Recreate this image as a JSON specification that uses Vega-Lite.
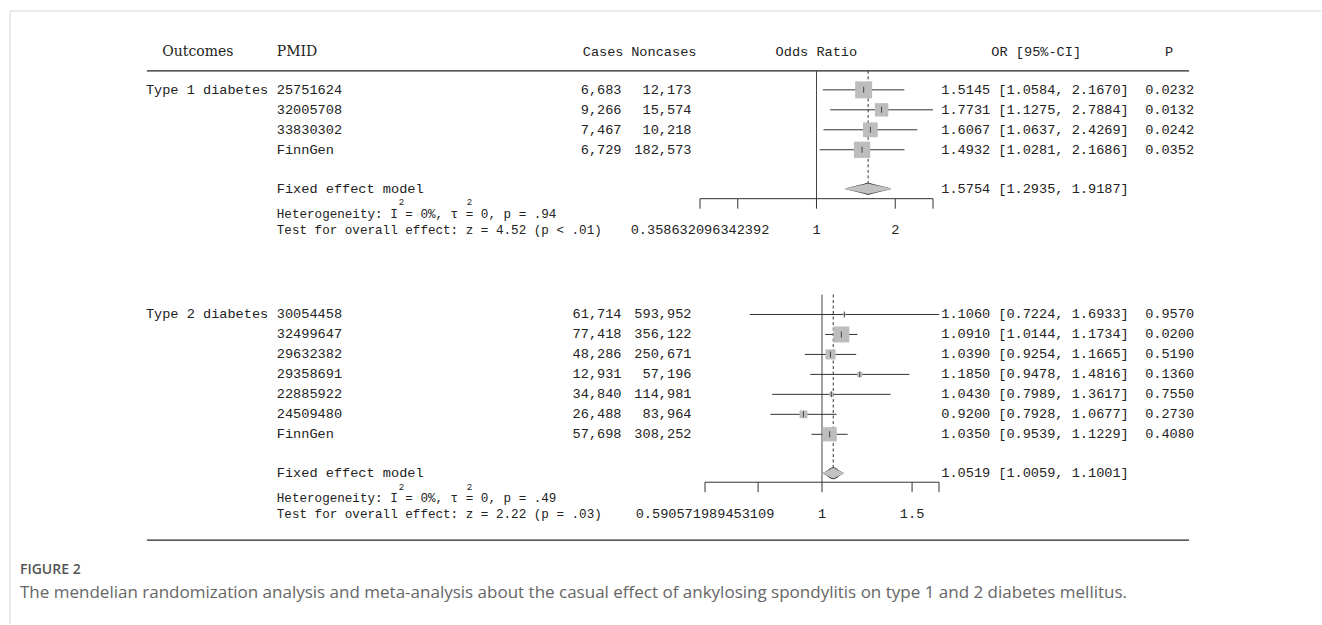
{
"$schema": "https://vega.github.io/schema/vega-lite/v6.json",
"width": 1322, "height": 625,
"autosize": {"type": "fit", "contains": "padding"},
"padding": 0,
"background": "#ffffff",
"config": {"view": {"stroke": null}, "text": {"font": "Liberation Mono", "fontSize": 13.6, "color": "#222222", "baseline": "middle"}},
"data": {"values": [{}]},
"datasets": {
"studies": [
{"g":"T1D","line":4,"pmid":"25751624","cases":6683,"noncases":12173,"or":1.5145,"lo":1.0584,"hi":2.1670,"ci":"[1.0584, 2.1670]","p":0.0232,"w":30.3},
{"g":"T1D","line":5,"pmid":"32005708","cases":9266,"noncases":15574,"or":1.7731,"lo":1.1275,"hi":2.7884,"ci":"[1.1275, 2.7884]","p":0.0132,"w":18.9},
{"g":"T1D","line":6,"pmid":"33830302","cases":7467,"noncases":10218,"or":1.6067,"lo":1.0637,"hi":2.4269,"ci":"[1.0637, 2.4269]","p":0.0242,"w":22.9},
{"g":"T1D","line":7,"pmid":"FinnGen","cases":6729,"noncases":182573,"or":1.4932,"lo":1.0281,"hi":2.1686,"ci":"[1.0281, 2.1686]","p":0.0352,"w":27.9},
{"g":"T2D","line":15.25,"pmid":"30054458","cases":61714,"noncases":593952,"or":1.1060,"lo":0.7224,"hi":1.6933,"ci":"[0.7224, 1.6933]","p":0.9570,"w":1.1},
{"g":"T2D","line":16.25,"pmid":"32499647","cases":77418,"noncases":356122,"or":1.0910,"lo":1.0144,"hi":1.1734,"ci":"[1.0144, 1.1734]","p":0.0200,"w":37.9},
{"g":"T2D","line":17.25,"pmid":"29632382","cases":48286,"noncases":250671,"or":1.0390,"lo":0.9254,"hi":1.1665,"ci":"[0.9254, 1.1665]","p":0.5190,"w":15.0},
{"g":"T2D","line":18.25,"pmid":"29358691","cases":12931,"noncases":57196,"or":1.1850,"lo":0.9478,"hi":1.4816,"ci":"[0.9478, 1.4816]","p":0.1360,"w":4.0},
{"g":"T2D","line":19.25,"pmid":"22885922","cases":34840,"noncases":114981,"or":1.0430,"lo":0.7989,"hi":1.3617,"ci":"[0.7989, 1.3617]","p":0.7550,"w":2.8},
{"g":"T2D","line":20.25,"pmid":"24509480","cases":26488,"noncases":83964,"or":0.9200,"lo":0.7928,"hi":1.0677,"ci":"[0.7928, 1.0677]","p":0.2730,"w":9.1},
{"g":"T2D","line":21.25,"pmid":"FinnGen","cases":57698,"noncases":308252,"or":1.0350,"lo":0.9539,"hi":1.1229,"ci":"[0.9539, 1.1229]","p":0.4080,"w":30.2}
],
"pooled": [
{"g":"T1D","line":8.95,"model":"Fixed effect model","or":1.5754,"lo":1.2935,"hi":1.9187,"ci":"[1.2935, 1.9187]","het":"Heterogeneity: I  = 0%, τ  = 0, p = .94","test":"Test for overall effect: z = 4.52 (p < .01)"},
{"g":"T2D","line":23.2,"model":"Fixed effect model","or":1.0519,"lo":1.0059,"hi":1.1001,"ci":"[1.0059, 1.1001]","het":"Heterogeneity: I  = 0%, τ  = 0, p = .49","test":"Test for overall effect: z = 2.22 (p = .03)"}
],
"outcomes": [
{"outcome":"Type 1 diabetes","line":4},
{"outcome":"Type 2 diabetes","line":15.25}
],
"ticks": [
{"g":"T1D","v":0.358632096342392,"label":"0.358632096342392"},
{"g":"T1D","v":0.5,"label":""},
{"g":"T1D","v":1,"label":"1"},
{"g":"T1D","v":2,"label":"2"},
{"g":"T1D","v":2.7884,"label":""},
{"g":"T2D","v":0.590571989453109,"label":"0.590571989453109"},
{"g":"T2D","v":0.75,"label":""},
{"g":"T2D","v":1,"label":"1"},
{"g":"T2D","v":1.5,"label":"1.5"},
{"g":"T2D","v":1.6933,"label":""}
]
},
"resolve": {"scale": {"x": "independent", "size": "independent"}},
"layer": [
{
"layer": [
{"mark":{"type":"rule","color":"#d4d4d4","strokeWidth":1},"encoding":{"x":{"datum":10,"type":"quantitative","scale":{"domain":[0,1322],"nice":false,"zero":false},"axis":null},"x2":{"datum":1322},"y":{"datum":0.05,"type":"quantitative","scale":{"domain":[-0.5,30.75],"reverse":true,"nice":false,"zero":false},"axis":null}}},
{"mark":{"type":"rule","color":"#d4d4d4","strokeWidth":1},"encoding":{"x":{"datum":10,"type":"quantitative"},"y":{"datum":0.05,"type":"quantitative"},"y2":{"datum":30.75}}},
{"mark":{"type":"rule","color":"#222222","strokeWidth":1.3},"encoding":{"x":{"datum":147,"type":"quantitative"},"x2":{"datum":1190},"y":{"datum":3.05,"type":"quantitative"}}},
{"mark":{"type":"rule","color":"#222222","strokeWidth":1.3},"encoding":{"x":{"datum":147,"type":"quantitative"},"x2":{"datum":1190},"y":{"datum":26.55,"type":"quantitative"}}},
{"mark":{"type":"text","font":"DejaVu Serif","fontSize":14,"align":"center"},"encoding":{"x":{"datum":198,"type":"quantitative"},"y":{"datum":2.1,"type":"quantitative"},"text":{"value":"Outcomes"}}},
{"mark":{"type":"text","font":"DejaVu Serif","fontSize":14,"align":"left"},"encoding":{"x":{"datum":277,"type":"quantitative"},"y":{"datum":2.1,"type":"quantitative"},"text":{"value":"PMID"}}},
{"mark":{"type":"text","align":"right"},"encoding":{"x":{"datum":624,"type":"quantitative"},"y":{"datum":2.1,"type":"quantitative"},"text":{"value":"Cases"}}},
{"mark":{"type":"text","align":"right"},"encoding":{"x":{"datum":697,"type":"quantitative"},"y":{"datum":2.1,"type":"quantitative"},"text":{"value":"Noncases"}}},
{"mark":{"type":"text","align":"center"},"encoding":{"x":{"datum":817,"type":"quantitative"},"y":{"datum":2.1,"type":"quantitative"},"text":{"value":"Odds Ratio"}}},
{"mark":{"type":"text","align":"center"},"encoding":{"x":{"datum":1037,"type":"quantitative"},"y":{"datum":2.1,"type":"quantitative"},"text":{"value":"OR [95%-CI]"}}},
{"mark":{"type":"text","align":"center"},"encoding":{"x":{"datum":1170,"type":"quantitative"},"y":{"datum":2.1,"type":"quantitative"},"text":{"value":"P"}}},
{"data":{"name":"outcomes"},"mark":{"type":"text","align":"left"},"encoding":{"x":{"datum":146,"type":"quantitative"},"y":{"field":"line","type":"quantitative"},"text":{"field":"outcome"}}},
{"data":{"name":"studies"},"mark":{"type":"text","align":"left"},"encoding":{"x":{"datum":277,"type":"quantitative"},"y":{"field":"line","type":"quantitative"},"text":{"field":"pmid"}}},
{"data":{"name":"studies"},"mark":{"type":"text","align":"right"},"encoding":{"x":{"datum":622,"type":"quantitative"},"y":{"field":"line","type":"quantitative"},"text":{"field":"cases","type":"quantitative","format":","}}},
{"data":{"name":"studies"},"mark":{"type":"text","align":"right"},"encoding":{"x":{"datum":692,"type":"quantitative"},"y":{"field":"line","type":"quantitative"},"text":{"field":"noncases","type":"quantitative","format":","}}},
{"data":{"name":"studies"},"mark":{"type":"text","align":"left"},"encoding":{"x":{"datum":942,"type":"quantitative"},"y":{"field":"line","type":"quantitative"},"text":{"field":"or","type":"quantitative","format":".4f"}}},
{"data":{"name":"studies"},"mark":{"type":"text","align":"left"},"encoding":{"x":{"datum":999,"type":"quantitative"},"y":{"field":"line","type":"quantitative"},"text":{"field":"ci"}}},
{"data":{"name":"studies"},"mark":{"type":"text","align":"left"},"encoding":{"x":{"datum":1146,"type":"quantitative"},"y":{"field":"line","type":"quantitative"},"text":{"field":"p","type":"quantitative","format":".4f"}}},
{"data":{"name":"pooled"},"mark":{"type":"text","align":"left"},"encoding":{"x":{"datum":277,"type":"quantitative"},"y":{"field":"line","type":"quantitative"},"text":{"field":"model"}}},
{"data":{"name":"pooled"},"mark":{"type":"text","align":"left"},"encoding":{"x":{"datum":942,"type":"quantitative"},"y":{"field":"line","type":"quantitative"},"text":{"field":"or","type":"quantitative","format":".4f"}}},
{"data":{"name":"pooled"},"mark":{"type":"text","align":"left"},"encoding":{"x":{"datum":999,"type":"quantitative"},"y":{"field":"line","type":"quantitative"},"text":{"field":"ci"}}},
{"data":{"name":"pooled"},"mark":{"type":"text","align":"left","fontSize":12.6,"dy":25},"encoding":{"x":{"datum":277,"type":"quantitative"},"y":{"field":"line","type":"quantitative"},"text":{"field":"het"}}},
{"data":{"name":"pooled"},"mark":{"type":"text","align":"center","fontSize":9,"dy":13.5},"encoding":{"x":{"datum":401.7,"type":"quantitative"},"y":{"field":"line","type":"quantitative"},"text":{"value":"2"}}},
{"data":{"name":"pooled"},"mark":{"type":"text","align":"center","fontSize":9,"dy":13.5},"encoding":{"x":{"datum":469.8,"type":"quantitative"},"y":{"field":"line","type":"quantitative"},"text":{"value":"2"}}},
{"data":{"name":"pooled"},"mark":{"type":"text","align":"left","fontSize":12.6,"dy":41},"encoding":{"x":{"datum":277,"type":"quantitative"},"y":{"field":"line","type":"quantitative"},"text":{"field":"test"}}},
{"mark":{"type":"text","align":"left","font":"Open Sans","fontSize":14,"fontWeight":600,"color":"#555555"},"encoding":{"x":{"datum":20,"type":"quantitative"},"y":{"datum":28.05,"type":"quantitative"},"text":{"value":"FIGURE 2"}}},
{"mark":{"type":"text","align":"left","font":"Open Sans","fontSize":17,"color":"#666666"},"encoding":{"x":{"datum":20,"type":"quantitative"},"y":{"datum":29.2,"type":"quantitative"},"text":{"value":"The mendelian randomization analysis and meta-analysis about the casual effect of ankylosing spondylitis on type 1 and 2 diabetes mellitus."}}}
]
},
{
"resolve": {"scale": {"size": "independent"}},
"layer": [
{"mark":{"type":"rule","color":"#444444","strokeWidth":1},"encoding":{"x":{"datum":1,"type":"quantitative","scale":{"type":"log","domain":[0.358632096342392,2.7884],"range":[700,933],"nice":false},"axis":null},"y":{"datum":3.05,"type":"quantitative"},"y2":{"datum":9.45}}},
{"data":{"name":"pooled"},"transform":[{"filter":"datum.g == 'T1D'"}],"mark":{"type":"rule","color":"#333333","strokeWidth":1,"strokeDash":[3,2.5]},"encoding":{"x":{"field":"or","type":"quantitative"},"y":{"datum":3.05,"type":"quantitative"},"y2":{"datum":8.7}}},
{"data":{"name":"studies"},"transform":[{"filter":"datum.g == 'T1D'"}],"mark":{"type":"rule","color":"#333333","strokeWidth":1},"encoding":{"x":{"field":"lo","type":"quantitative"},"x2":{"field":"hi"},"y":{"field":"line","type":"quantitative"}}},
{"data":{"name":"studies"},"transform":[{"filter":"datum.g == 'T1D'"}],"mark":{"type":"square","color":"#bdbdbd","opacity":1},"encoding":{"x":{"field":"or","type":"quantitative"},"y":{"field":"line","type":"quantitative"},"size":{"field":"w","type":"quantitative","scale":{"domain":[0,30.3],"range":[0,289]},"legend":null}}},
{"data":{"name":"studies"},"transform":[{"filter":"datum.g == 'T1D'"}],"mark":{"type":"tick","orient":"vertical","color":"#111111","size":6,"thickness":1},"encoding":{"x":{"field":"or","type":"quantitative"},"y":{"field":"line","type":"quantitative"}}},
{"data":{"name":"pooled"},"transform":[{"filter":"datum.g == 'T1D'"},{"fold":["lo","or"],"as":["est","v"]}],"mark":{"type":"trail","color":"#444444"},"encoding":{"x":{"field":"v","type":"quantitative"},"y":{"datum":8.95,"type":"quantitative"},"size":{"field":"est","type":"ordinal","scale":{"type":"point","domain":["lo","or"],"range":[0,12],"padding":0},"legend":null}}},
{"data":{"name":"pooled"},"transform":[{"filter":"datum.g == 'T1D'"},{"fold":["or","hi"],"as":["est","v"]}],"mark":{"type":"trail","color":"#444444"},"encoding":{"x":{"field":"v","type":"quantitative"},"y":{"datum":8.95,"type":"quantitative"},"size":{"field":"est","type":"ordinal","scale":{"type":"point","domain":["hi","or"],"range":[0,12],"padding":0},"legend":null}}},
{"data":{"name":"pooled"},"transform":[{"filter":"datum.g == 'T1D'"},{"fold":["lo","or"],"as":["est","v"]}],"mark":{"type":"trail","color":"#c2c2c2"},"encoding":{"x":{"field":"v","type":"quantitative"},"y":{"datum":8.95,"type":"quantitative"},"size":{"field":"est","type":"ordinal","scale":{"type":"point","domain":["lo","or"],"range":[0,10],"padding":0},"legend":null}}},
{"data":{"name":"pooled"},"transform":[{"filter":"datum.g == 'T1D'"},{"fold":["or","hi"],"as":["est","v"]}],"mark":{"type":"trail","color":"#c2c2c2"},"encoding":{"x":{"field":"v","type":"quantitative"},"y":{"datum":8.95,"type":"quantitative"},"size":{"field":"est","type":"ordinal","scale":{"type":"point","domain":["hi","or"],"range":[0,10],"padding":0},"legend":null}}},
{"data":{"name":"ticks"},"transform":[{"filter":"datum.g == 'T1D'"}],"mark":{"type":"rule","color":"#333333","strokeWidth":1},"encoding":{"x":{"field":"v","aggregate":"min","type":"quantitative"},"x2":{"field":"v","aggregate":"max"},"y":{"datum":9.45,"type":"quantitative"}}},
{"data":{"name":"ticks"},"transform":[{"filter":"datum.g == 'T1D'"}],"mark":{"type":"rule","color":"#333333","strokeWidth":1},"encoding":{"x":{"field":"v","type":"quantitative"},"y":{"datum":9.45,"type":"quantitative"},"y2":{"datum":9.95}}},
{"data":{"name":"ticks"},"transform":[{"filter":"datum.g == 'T1D'"}],"mark":{"type":"text","align":"center"},"encoding":{"x":{"field":"v","type":"quantitative"},"y":{"datum":11.0,"type":"quantitative"},"text":{"field":"label"}}}
]
},
{
"resolve": {"scale": {"size": "independent"}},
"layer": [
{"mark":{"type":"rule","color":"#444444","strokeWidth":1},"encoding":{"x":{"datum":1,"type":"quantitative","scale":{"type":"log","domain":[0.590571989453109,1.6933],"range":[705,939],"nice":false},"axis":null},"y":{"datum":14.25,"type":"quantitative"},"y2":{"datum":23.65}}},
{"data":{"name":"pooled"},"transform":[{"filter":"datum.g == 'T2D'"}],"mark":{"type":"rule","color":"#333333","strokeWidth":1,"strokeDash":[3,2.5]},"encoding":{"x":{"field":"or","type":"quantitative"},"y":{"datum":14.25,"type":"quantitative"},"y2":{"datum":22.95}}},
{"data":{"name":"studies"},"transform":[{"filter":"datum.g == 'T2D'"}],"mark":{"type":"rule","color":"#333333","strokeWidth":1},"encoding":{"x":{"field":"lo","type":"quantitative"},"x2":{"field":"hi"},"y":{"field":"line","type":"quantitative"}}},
{"data":{"name":"studies"},"transform":[{"filter":"datum.g == 'T2D'"}],"mark":{"type":"square","color":"#bdbdbd","opacity":1},"encoding":{"x":{"field":"or","type":"quantitative"},"y":{"field":"line","type":"quantitative"},"size":{"field":"w","type":"quantitative","scale":{"domain":[0,37.9],"range":[0,256]},"legend":null}}},
{"data":{"name":"studies"},"transform":[{"filter":"datum.g == 'T2D'"}],"mark":{"type":"tick","orient":"vertical","color":"#111111","size":6,"thickness":1},"encoding":{"x":{"field":"or","type":"quantitative"},"y":{"field":"line","type":"quantitative"}}},
{"data":{"name":"pooled"},"transform":[{"filter":"datum.g == 'T2D'"},{"fold":["lo","or"],"as":["est","v"]}],"mark":{"type":"trail","color":"#444444"},"encoding":{"x":{"field":"v","type":"quantitative"},"y":{"datum":23.2,"type":"quantitative"},"size":{"field":"est","type":"ordinal","scale":{"type":"point","domain":["lo","or"],"range":[0,12],"padding":0},"legend":null}}},
{"data":{"name":"pooled"},"transform":[{"filter":"datum.g == 'T2D'"},{"fold":["or","hi"],"as":["est","v"]}],"mark":{"type":"trail","color":"#444444"},"encoding":{"x":{"field":"v","type":"quantitative"},"y":{"datum":23.2,"type":"quantitative"},"size":{"field":"est","type":"ordinal","scale":{"type":"point","domain":["hi","or"],"range":[0,12],"padding":0},"legend":null}}},
{"data":{"name":"pooled"},"transform":[{"filter":"datum.g == 'T2D'"},{"fold":["lo","or"],"as":["est","v"]}],"mark":{"type":"trail","color":"#c2c2c2"},"encoding":{"x":{"field":"v","type":"quantitative"},"y":{"datum":23.2,"type":"quantitative"},"size":{"field":"est","type":"ordinal","scale":{"type":"point","domain":["lo","or"],"range":[0,10],"padding":0},"legend":null}}},
{"data":{"name":"pooled"},"transform":[{"filter":"datum.g == 'T2D'"},{"fold":["or","hi"],"as":["est","v"]}],"mark":{"type":"trail","color":"#c2c2c2"},"encoding":{"x":{"field":"v","type":"quantitative"},"y":{"datum":23.2,"type":"quantitative"},"size":{"field":"est","type":"ordinal","scale":{"type":"point","domain":["hi","or"],"range":[0,10],"padding":0},"legend":null}}},
{"data":{"name":"ticks"},"transform":[{"filter":"datum.g == 'T2D'"}],"mark":{"type":"rule","color":"#333333","strokeWidth":1},"encoding":{"x":{"field":"v","aggregate":"min","type":"quantitative"},"x2":{"field":"v","aggregate":"max"},"y":{"datum":23.65,"type":"quantitative"}}},
{"data":{"name":"ticks"},"transform":[{"filter":"datum.g == 'T2D'"}],"mark":{"type":"rule","color":"#333333","strokeWidth":1},"encoding":{"x":{"field":"v","type":"quantitative"},"y":{"datum":23.65,"type":"quantitative"},"y2":{"datum":24.15}}},
{"data":{"name":"ticks"},"transform":[{"filter":"datum.g == 'T2D'"}],"mark":{"type":"text","align":"center"},"encoding":{"x":{"field":"v","type":"quantitative"},"y":{"datum":25.25,"type":"quantitative"},"text":{"field":"label"}}}
]
}
]
}
